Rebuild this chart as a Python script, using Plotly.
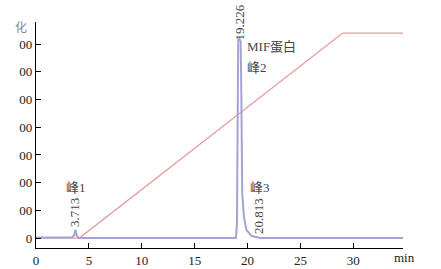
import plotly.graph_objects as go

# Chromatogram (absorbance) trace
chrom_t = [0, 3.4, 3.6, 3.72, 3.85, 4.05, 4.4, 18.9, 19.0, 19.04, 19.07, 19.12, 19.226, 19.35, 19.42, 19.45, 19.5, 19.66, 19.9, 20.4, 20.813, 21.2, 34.7]
chrom_v = [0.02, 0.02, 0.1, 0.3, 0.08, 0.0, 0.0, 0.0, 0.5, 3.0, 6.8, 7.15, 7.2, 7.1, 5.0, 2.5, 1.6, 0.76, 0.29, 0.07, 0.03, 0.0, 0.0]

# Gradient (buffer B) trace
grad_t = [0, 4.1, 29.0, 34.7]
grad_v = [0, 0, 7.4, 7.4]

y_tickvals = [0, 1, 2, 3, 4, 5, 6, 7]
y_ticktext = ["0", "00", "00", "00", "00", "00", "00", "00"]
x_tickvals = [0, 5, 10, 15, 20, 25, 30]

SERIF = "Liberation Serif, Noto Sans CJK SC, serif"

fig = go.Figure()
fig.add_trace(go.Scatter(x=grad_t, y=grad_v, mode="lines",
                         line=dict(color="#e89a9a", width=1.3), showlegend=False))
fig.add_trace(go.Scatter(x=chrom_t, y=chrom_v, mode="lines",
                         line=dict(color="#a4a4d2", width=2.0), showlegend=False))

ann_font = dict(family=SERIF, size=13, color="#444")
anns = [
    dict(x=3.78, y=1.81, text="峰1", xanchor="center"),
    dict(x=3.59, y=0.94, text="3.713", textangle=-90, xanchor="center"),
    dict(x=19.23, y=7.8, text="19.226", textangle=-90, xanchor="center"),
    dict(x=19.75, y=6.93, text="MIF蛋白", xanchor="left"),
    dict(x=19.75, y=6.17, text="峰2", xanchor="left"),
    dict(x=20.04, y=1.84, text="峰3", xanchor="left"),
    dict(x=20.98, y=0.79, text="20.813", textangle=-90, xanchor="center"),
]
for a in anns:
    fig.add_annotation(xref="x", yref="y", showarrow=False, font=ann_font,
                       yanchor="middle", **a)
fig.add_annotation(xref="paper", yref="paper", x=1.005, y=-0.044, text="min",
                   showarrow=False, xanchor="center", yanchor="middle",
                   font=dict(family=SERIF, size=13, color="#222"))
fig.add_annotation(xref="paper", yref="paper", x=-0.018, y=0.973, text="化",
                   showarrow=False, xanchor="right", yanchor="middle",
                   font=dict(family=SERIF, size=12, color="#888"))

fig.update_layout(
    width=441, height=269,
    margin=dict(l=36, r=38, t=22, b=21, autoexpand=False),
    paper_bgcolor="white", plot_bgcolor="white",
    font=dict(family=SERIF, size=12, color="#222"),
)
fig.update_xaxes(range=[0, 34.7], tickvals=x_tickvals, ticks="inside", ticklen=5,
                 tickwidth=1, tickcolor="black", showline=True, linecolor="black",
                 linewidth=1.2, showgrid=False, zeroline=False, automargin=False,
                 tickfont=dict(family=SERIF, size=13, color="#222"))
fig.update_yaxes(range=[-0.36, 7.8], tickvals=y_tickvals, ticktext=y_ticktext,
                 ticks="inside", ticklen=5, tickwidth=1, tickcolor="black",
                 showline=True, linecolor="black", linewidth=1.2, showgrid=False,
                 zeroline=False, automargin=False,
                 tickfont=dict(family=SERIF, size=13, color="#222"))

fig.write_html("out.html", config={"displayModeBar": False},
               post_script="document.body.style.margin='0';document.body.style.overflow='hidden';")
